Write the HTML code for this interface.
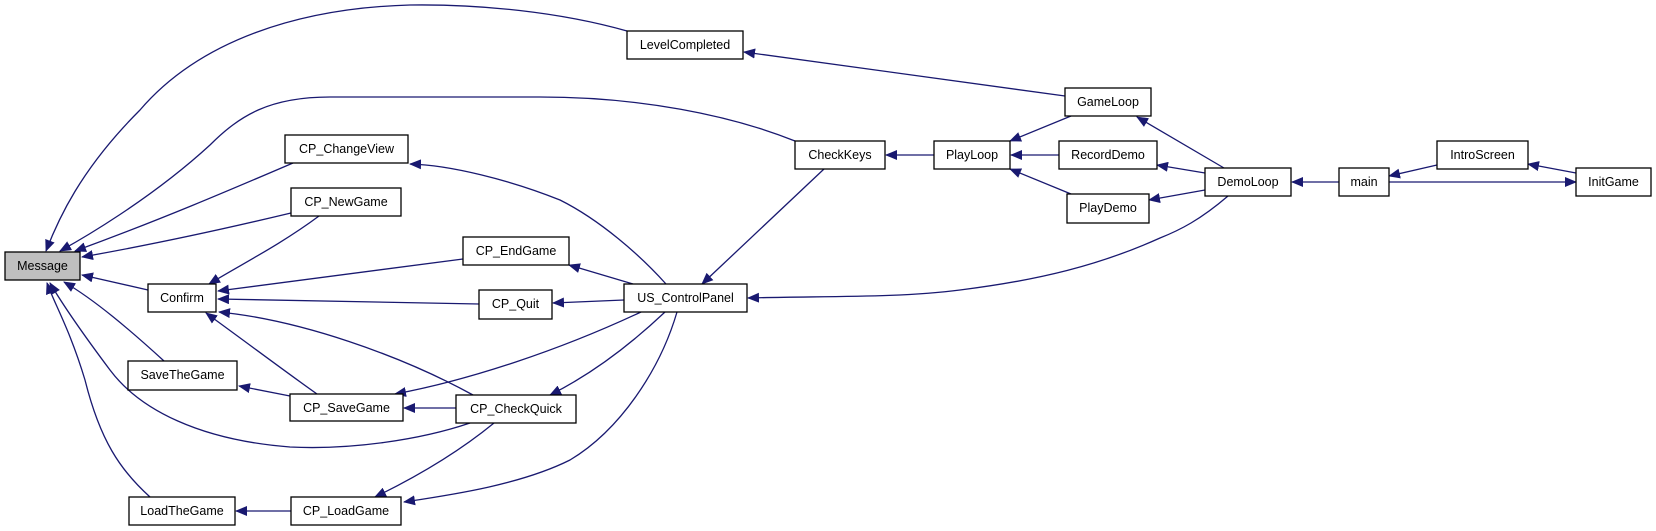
<!DOCTYPE html>
<html><head><meta charset="utf-8"><style>
html,body{margin:0;padding:0;background:#fff;}
svg{display:block;}
text{font-family:"Liberation Sans",sans-serif;font-size:12.5px;fill:#000;text-anchor:middle;}
.e{fill:none;stroke:#191970;stroke-width:1.3;marker-end:url(#a);}
.n{fill:#fff;stroke:#000;stroke-width:1.3;}
</style></head><body>
<svg width="1656" height="531" viewBox="0 0 1656 531" xmlns="http://www.w3.org/2000/svg">
<defs><marker id="a" markerWidth="12" markerHeight="10" refX="11" refY="5" orient="auto" markerUnits="userSpaceOnUse"><path d="M0,0 L12,5 L0,10 z" fill="#191970"/></marker></defs>

<path class="e" d="M627,31 C560,12 480,4 410,5 C300,8 200,40 140,110 C80,170 58,220 46,251"/>
<path class="e" d="M795,141 C730,115 640,97 540,97 L330,97 C270,97 240,115 210,145 C150,200 80,240 60,251"/>
<path class="e" d="M293,163 C230,190 160,220 75,251"/>
<path class="e" d="M291,213 C220,230 150,245 82,257"/>
<path class="e" d="M148,290 L82,275"/>
<path class="e" d="M164,361 C130,330 95,300 64,282"/>
<path class="e" d="M470,423 C420,440 350,450 290,447 C200,440 140,410 110,370 C80,330 60,300 50,283"/>
<path class="e" d="M150,497 C120,470 100,440 85,380 C70,330 55,305 47,283"/>
<path class="e" d="M319,216 C280,245 240,265 209,284"/>
<path class="e" d="M463,259 L218,291"/>
<path class="e" d="M479,304 L218,299"/>
<path class="e" d="M317,394 C290,375 250,345 206,313"/>
<path class="e" d="M473,395 C400,355 300,320 219,312"/>
<path class="e" d="M290,396 L239,386"/>
<path class="e" d="M456,408 L404,408"/>
<path class="e" d="M641,312 C560,350 470,380 395,394"/>
<path class="e" d="M666,284 C640,255 600,220 560,200 C510,180 450,165 410,164"/>
<path class="e" d="M633,284 L569,265"/>
<path class="e" d="M624,300 L553,303"/>
<path class="e" d="M665,312 C630,345 590,375 550,395"/>
<path class="e" d="M677,312 C660,370 620,430 570,460 C520,485 450,495 404,502"/>
<path class="e" d="M494,423 C455,455 410,480 375,497"/>
<path class="e" d="M291,511 L236,511"/>
<path class="e" d="M824,169 L702,284"/>
<path class="e" d="M1228,196 C1200,220 1180,230 1160,238 C1100,265 1040,280 960,290 C900,298 820,296 748,298"/>
<path class="e" d="M1065,96 L744,52"/>
<path class="e" d="M934,155 L886,155"/>
<path class="e" d="M1071,116 L1010,141"/>
<path class="e" d="M1059,155 L1011,155"/>
<path class="e" d="M1071,194 L1010,169"/>
<path class="e" d="M1224,168 L1137,117"/>
<path class="e" d="M1205,173 L1157,165"/>
<path class="e" d="M1205,190 L1149,200"/>
<path class="e" d="M1339,182 L1292,182"/>
<path class="e" d="M1437,165 L1389,176"/>
<path class="e" d="M1576,173 L1528,164"/>
<path class="e" d="M1389,182 L1576,182"/>

<rect x="5" y="252" width="75" height="28" fill="#bfbfbf" stroke="#000" stroke-width="1.3"/><text x="42.5" y="270">Message</text>
<rect class="n" x="627" y="31" width="116" height="28"/><text x="685" y="49">LevelCompleted</text>
<rect class="n" x="795" y="141" width="90" height="28"/><text x="840" y="159">CheckKeys</text>
<rect class="n" x="285" y="135" width="123" height="28"/><text x="346.5" y="153">CP_ChangeView</text>
<rect class="n" x="291" y="188" width="110" height="28"/><text x="346" y="206">CP_NewGame</text>
<rect class="n" x="463" y="237" width="106" height="28"/><text x="516" y="255">CP_EndGame</text>
<rect class="n" x="148" y="284" width="68" height="28"/><text x="182" y="302">Confirm</text>
<rect class="n" x="479" y="290" width="73" height="29"/><text x="515.5" y="308">CP_Quit</text>
<rect class="n" x="624" y="284" width="123" height="28"/><text x="685.5" y="302">US_ControlPanel</text>
<rect class="n" x="128" y="361" width="109" height="29"/><text x="182.5" y="379">SaveTheGame</text>
<rect class="n" x="290" y="394" width="113" height="27"/><text x="346.5" y="412">CP_SaveGame</text>
<rect class="n" x="456" y="395" width="120" height="28"/><text x="516" y="413">CP_CheckQuick</text>
<rect class="n" x="129" y="497" width="106" height="28"/><text x="182" y="515">LoadTheGame</text>
<rect class="n" x="291" y="497" width="110" height="28"/><text x="346" y="515">CP_LoadGame</text>
<rect class="n" x="1065" y="88" width="86" height="28"/><text x="1108" y="106">GameLoop</text>
<rect class="n" x="934" y="141" width="76" height="28"/><text x="972" y="159">PlayLoop</text>
<rect class="n" x="1059" y="141" width="98" height="28"/><text x="1108" y="159">RecordDemo</text>
<rect class="n" x="1067" y="194" width="82" height="29"/><text x="1108" y="212">PlayDemo</text>
<rect class="n" x="1205" y="168" width="86" height="28"/><text x="1248" y="186">DemoLoop</text>
<rect class="n" x="1339" y="168" width="50" height="28"/><text x="1364" y="186">main</text>
<rect class="n" x="1437" y="141" width="91" height="28"/><text x="1482.5" y="159">IntroScreen</text>
<rect class="n" x="1576" y="168" width="75" height="28"/><text x="1613.5" y="186">InitGame</text>
</svg>
</body></html>
